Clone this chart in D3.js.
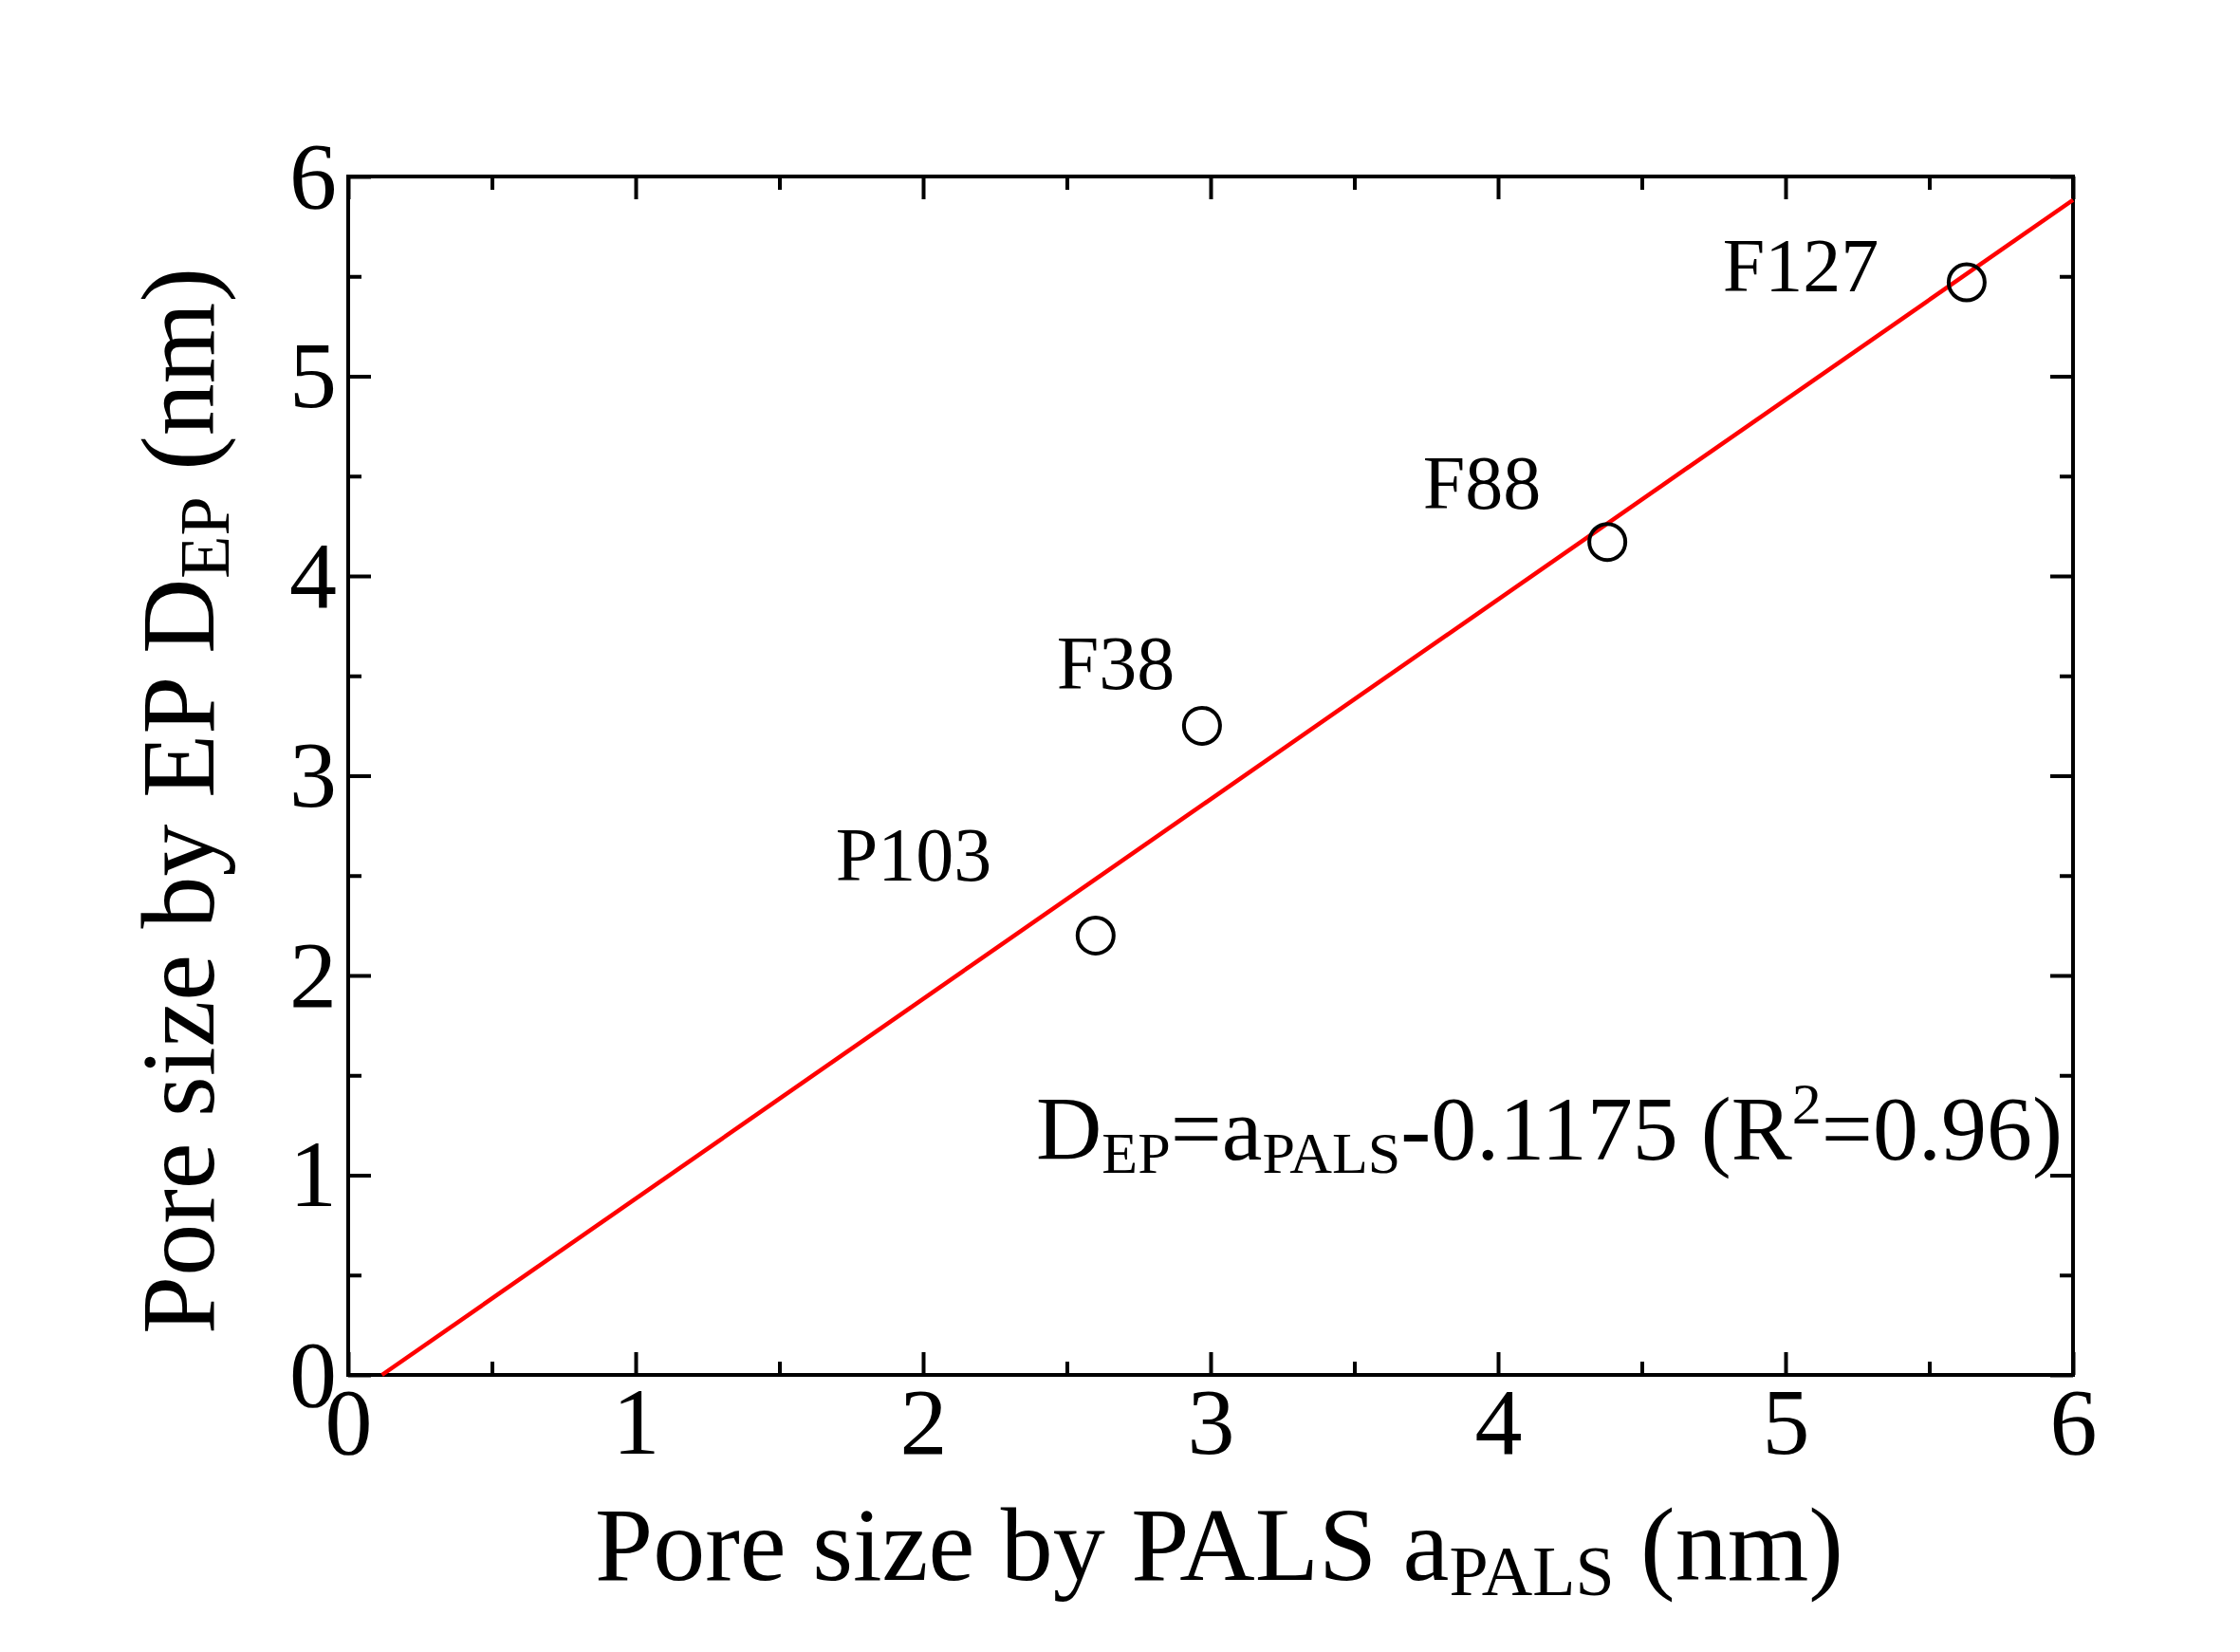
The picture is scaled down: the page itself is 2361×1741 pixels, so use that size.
<!DOCTYPE html><html><head><meta charset="utf-8"><script src="https://d3js.org/d3.v7.min.js"></script>
<style>body{margin:0;background:#fff}text{font-family:"Liberation Serif","Times New Roman",serif}</style></head><body><svg id="c" width="2361" height="1741"></svg><script>
const names=["P103","F38","F88","F127"];
const aPALS=[2.6,2.97,4.38,5.63];
const dEP=[2.2,3.25,4.17,5.47];
const fitX=[0.1175,6];
const ticks=[0,1,2,3,4,5,6];
const minor=[0.5,1.5,2.5,3.5,4.5,5.5];
const svg=d3.select("#c");
const L=367,R=2185,T=186,B=1449;
const x=d3.scaleLinear().domain([0,6]).range([L,R]);
const y=d3.scaleLinear().domain([0,6]).range([B,T]);
const g=svg.append("g");
function ax(gen,tr,sz,lab){const a=g.append("g").attr("transform",tr).call(gen.tickSizeOuter(0).tickSizeInner(sz).tickPadding(12).tickFormat(lab?d3.format("d"):""));
a.select(".domain").remove();a.selectAll("line").attr("stroke","#000").attr("stroke-width",4);a.selectAll("text").attr("font-size",100).attr("fill","#000").attr("font-family","Liberation Serif");return a;}
ax(d3.axisBottom(x).tickValues(ticks),`translate(0,${B})`,-24,true);
ax(d3.axisBottom(x).tickValues(minor),`translate(0,${B})`,-14,false);
ax(d3.axisTop(x).tickValues(ticks),`translate(0,${T})`,-24,false);
ax(d3.axisTop(x).tickValues(minor),`translate(0,${T})`,-14,false);
ax(d3.axisLeft(y).tickValues(ticks),`translate(${L},0)`,-24,true);
ax(d3.axisLeft(y).tickValues(minor),`translate(${L},0)`,-14,false);
ax(d3.axisRight(y).tickValues(ticks),`translate(${R},0)`,-24,false);
ax(d3.axisRight(y).tickValues(minor),`translate(${R},0)`,-14,false);
g.append("rect").attr("x",L).attr("y",T).attr("width",R-L).attr("height",B-T).attr("fill","none").attr("stroke","#000").attr("stroke-width",4);
g.append("path").attr("d",d3.line().x(d=>x(d)).y(d=>y(d-0.1175))(fitX)).attr("stroke","#f00").attr("stroke-width",4.5).attr("fill","none");
g.selectAll("circle.p").data(aPALS).enter().append("circle").attr("cx",d=>x(d)).attr("cy",(d,i)=>y(dEP[i])).attr("r",19).attr("fill","none").attr("stroke","#000").attr("stroke-width",4);
const lp=[[963,902],[1176,700],[1562,510],[1898,281]];
g.selectAll("text.l").data(names).enter().append("text").attr("x",(d,i)=>lp[i][0]).attr("y",(d,i)=>lp[i][1]+26).attr("text-anchor","middle").attr("font-size",80).text(d=>d);
const eq=g.append("text").attr("x",1092).attr("y",1222).attr("font-size",96);
eq.append("tspan").text("D");eq.append("tspan").attr("font-size",62).attr("dy",14).text("EP");
eq.append("tspan").attr("dy",-14).text("=a");eq.append("tspan").attr("font-size",62).attr("dy",14).text("PALS");
eq.append("tspan").attr("dy",-14).text("-0.1175 (R");eq.append("tspan").attr("font-size",62).attr("dy",-38).text("2");
eq.append("tspan").attr("dy",38).text("=0.96)");
const xt=svg.append("text").attr("x",1285).attr("y",1665).attr("text-anchor","middle").attr("font-size",110);
xt.append("tspan").text("Pore size by PALS a");xt.append("tspan").attr("font-size",74).attr("dy",16).text("PALS");xt.append("tspan").attr("dy",-16).text(" (nm)");
const yt=svg.append("text").attr("transform","translate(225,844) rotate(-90)").attr("text-anchor","middle").attr("font-size",110);
yt.append("tspan").text("Pore size by EP D");yt.append("tspan").attr("font-size",74).attr("dy",16).text("EP");yt.append("tspan").attr("dy",-16).text(" (nm)");
</script></body></html>
